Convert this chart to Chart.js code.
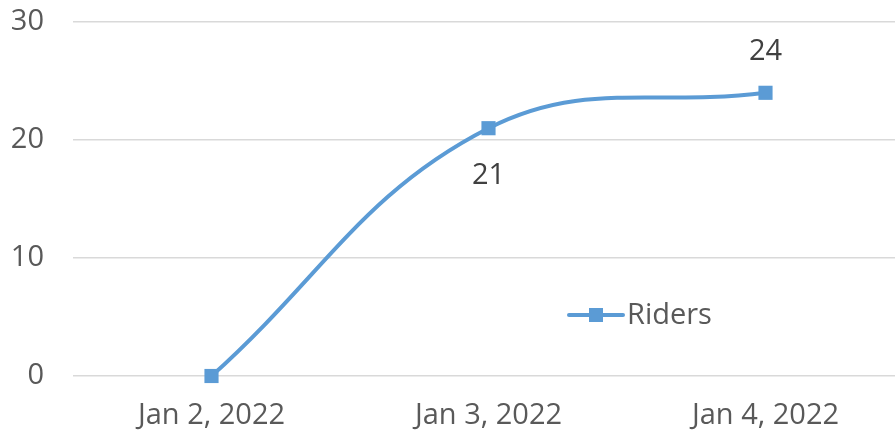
<!DOCTYPE html>
<html>
<head>
<meta charset="utf-8">
<script src="https://cdn.jsdelivr.net/npm/chart.js@4.4.0/dist/chart.umd.min.js"></script>
<style>
  html, body { margin: 0; padding: 0; background: #fff; overflow: hidden; }
  #wrap { position: relative; width: 914px; height: 435px; }
</style>
</head>
<body>
<div id="wrap"><canvas id="riderChart"></canvas></div>
<script>
const categorias = ['Jan 2, 2022', 'Jan 3, 2022', 'Jan 4, 2022'];
const riders = [0, 21, 24];
const yTicks = [0, 10, 20, 30];
const serieNombre = 'Riders';

const FUENTE = '"Open Sans", "Noto Sans", sans-serif';
const TAM = 29;
const AZUL = '#5b9bd5';

// etiquetas de datos (21 abajo, 24 arriba, el 0 no lleva)
const etiquetasPlugin = {
    id: 'etiquetas',
    afterDatasetsDraw(chart) {
        const ctx = chart.ctx;
        const meta = chart.getDatasetMeta(0);
        const posiciones = [null, 'below', 'above'];
        ctx.save();
        ctx.font = TAM + 'px ' + FUENTE;
        ctx.fillStyle = '#404040';
        ctx.textAlign = 'center';
        ctx.textBaseline = 'middle';
        meta.data.forEach((pt, i) => {
            const pos = posiciones[i];
            if (!pos) return;
            const y = pos === 'below' ? pt.y + 48 : pt.y - 41;
            ctx.fillText(String(riders[i]), pt.x, y);
        });
        ctx.restore();
    }
};

// leyenda dentro del área del gráfico
const leyendaPlugin = {
    id: 'leyendaInterna',
    afterDraw(chart) {
        const ctx = chart.ctx;
        const x = 569, y = 315;
        ctx.save();
        ctx.strokeStyle = AZUL;
        ctx.lineWidth = 4;
        ctx.lineCap = 'round';
        ctx.beginPath();
        ctx.moveTo(x, y);
        ctx.lineTo(x + 54, y);
        ctx.stroke();
        ctx.fillStyle = AZUL;
        ctx.fillRect(x + 20, y - 7, 14, 14);
        ctx.font = TAM + 'px ' + FUENTE;
        ctx.fillStyle = '#595959';
        ctx.textAlign = 'left';
        ctx.textBaseline = 'middle';
        ctx.fillText(chart.data.datasets[0].label, x + 58, y + 1);
        ctx.restore();
    }
};

new Chart(document.getElementById('riderChart').getContext('2d'), {
    type: 'line',
    data: {
        labels: categorias,
        datasets: [{
            label: serieNombre,
            data: riders,
            borderColor: AZUL,
            backgroundColor: AZUL,
            borderWidth: 4,
            tension: 0.4,
            pointStyle: 'rect',
            pointRadius: 10,
            pointHoverRadius: 10,
            pointBorderWidth: 0,
            clip: false
        }]
    },
    options: {
        responsive: true,
        maintainAspectRatio: false,
        animation: false,
        layout: { padding: { top: 22, left: 0, right: 0, bottom: 0 } },
        plugins: {
            legend: { display: false },
            tooltip: { enabled: false }
        },
        scales: {
            x: {
                offset: true,
                grid: { display: false, drawTicks: false },
                border: { display: false },
                ticks: {
                    color: '#595959',
                    font: { family: FUENTE, size: TAM },
                    padding: 22,
                    maxRotation: 0
                },
                afterFit: (scale) => { scale.height = 59; }
            },
            y: {
                min: 0,
                max: 30,
                afterBuildTicks: (scale) => { scale.ticks = yTicks.map(v => ({ value: v })); },
                grid: { color: '#d9d9d9', lineWidth: 1.5, drawTicks: false },
                border: { display: false },
                ticks: {
                    color: '#595959',
                    font: { family: FUENTE, size: TAM },
                    padding: 29
                },
                afterFit: (scale) => {
                    scale.width = 73;
                    scale.paddingTop = 0;
                    scale.paddingBottom = 0;
                }
            }
        }
    },
    plugins: [etiquetasPlugin, leyendaPlugin]
});
</script>
</body>
</html>
